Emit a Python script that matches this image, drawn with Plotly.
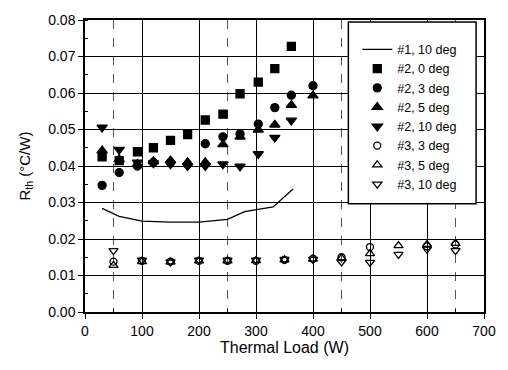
import plotly.graph_objects as go

# ---- data ----
s1_x = [30, 60, 100, 150, 200, 250, 280, 305, 330, 365]
s1_y = [0.0284, 0.0262, 0.0249, 0.0246, 0.0246, 0.0254, 0.0275, 0.0282, 0.0288, 0.0337]

s2_x = [30, 60, 92, 120, 150, 180, 211, 242, 272, 304, 333, 362, 400]
s2_0 = [0.0425, 0.0415, 0.0439, 0.0450, 0.0470, 0.0486, 0.0526, 0.0542, 0.0598, 0.0630, 0.0667, 0.0728, None]
s2_3 = [0.0347, 0.0382, 0.0400, 0.0410, 0.0410, 0.0405, 0.0461, 0.0480, 0.0488, 0.0515, 0.0560, 0.0594, 0.0620]
s2_5 = [0.0442, 0.0418, 0.0405, 0.0413, 0.0415, 0.0410, 0.0410, 0.0459, 0.0480, 0.0499, 0.0513, 0.0567, 0.0593]
s2_10 = [0.0506, 0.0445, 0.0410, 0.0408, 0.0405, 0.0400, 0.0400, 0.0405, 0.0399, 0.0433, 0.0478, 0.0525, None]

s3_x = [50, 100, 150, 200, 250, 300, 350, 400, 450, 500, 550, 600, 650]
s3_3 = [0.0138, 0.0140, 0.0138, 0.0140, 0.0140, 0.0140, 0.0143, 0.0146, 0.0150, 0.0178, None, 0.0180, 0.0185]
s3_5 = [0.0128, 0.0138, 0.0137, 0.0140, 0.0140, 0.0141, 0.0143, 0.0145, 0.0148, 0.0160, 0.0182, 0.0185, 0.0188]
s3_10 = [0.0168, 0.0142, 0.0137, 0.0142, 0.0142, 0.0142, 0.0144, 0.0144, 0.0137, 0.0136, 0.0158, 0.0172, 0.0168]

x_ticks = [0, 100, 200, 300, 400, 500, 600, 700]
y_ticks = [0.00, 0.01, 0.02, 0.03, 0.04, 0.05, 0.06, 0.07, 0.08]

FONT = "Liberation Sans, Arial, sans-serif"
fig = go.Figure()

fig.add_trace(go.Scatter(x=s1_x, y=s1_y, mode="lines", name="#1, 10 deg",
                         line=dict(color="black", width=1.3)))

def mk(name, x, y, symbol, size=8):
    fig.add_trace(go.Scatter(x=x, y=y, mode="markers", name=name,
                             marker=dict(symbol=symbol, size=size, color="black",
                                         line=dict(color="black", width=1.3))))

mk("#2, 0 deg", s2_x, s2_0, "square", 8)
mk("#2, 3 deg", s2_x, s2_3, "circle", 8)
mk("#2, 5 deg", s2_x, s2_5, "triangle-up", 9)
mk("#2, 10 deg", s2_x, s2_10, "triangle-down", 9)
mk("#3, 3 deg", s3_x, s3_3, "circle-open", 7)
mk("#3, 5 deg", s3_x, s3_5, "triangle-up-open", 8)
mk("#3, 10 deg", s3_x, s3_10, "triangle-down-open", 8)

L, R, T, B = 85, 20, 15, 58
W, H = 508, 370
pw, ph = W - L - R, H - T - B

def px_x(p):
    return (p - L) / pw

def px_y(p):
    return (H - B - p) / ph

fig.add_shape(type="rect", xref="paper", yref="paper",
              x0=px_x(351), x1=px_x(480), y0=px_y(202), y1=px_y(17),
              fillcolor="white", line=dict(color="black", width=1.5), layer="above")

fig.update_layout(
    width=W, height=H,
    margin=dict(l=L, r=R, t=T, b=B),
    paper_bgcolor="white", plot_bgcolor="white",
    font=dict(family=FONT, color="black", size=14),
    showlegend=True,
    legend=dict(x=px_x(360), y=px_y(30), xanchor="left", yanchor="top",
                bgcolor="rgba(0,0,0,0)", borderwidth=0,
                font=dict(size=12.5, family=FONT), itemwidth=30),
    xaxis=dict(range=[0, 700], tickvals=x_ticks, showline=True, linecolor="black",
               linewidth=1.5, mirror=True, ticks="outside", ticklen=5,
               tickcolor="black", showgrid=True, gridcolor="black", gridwidth=1.3,
               zeroline=False, tickfont=dict(size=14),
               minor=dict(tickvals=[50, 250, 450, 650], showgrid=True,
                          gridcolor="#555", griddash="dash", gridwidth=1,
                          ticks="inside", ticklen=3, tickcolor="black"),
               title=dict(text="Thermal Load (W)", font=dict(size=16), standoff=0)),
    yaxis=dict(range=[0, 0.08], tickvals=y_ticks, tickformat=".2f", showline=True,
               linecolor="black", linewidth=1.5, mirror=True, ticks="outside",
               ticklen=5, tickcolor="black", showgrid=True, gridcolor="black",
               gridwidth=1.3, zeroline=False, tickfont=dict(size=14),
               minor=dict(dtick=0.005, ticks="inside", ticklen=3, tickcolor="black",
                          showgrid=False),
               title=dict(text="R<sub>th</sub> (°C/W)", font=dict(size=15), standoff=14)),
)

fig.write_html("out.html")
